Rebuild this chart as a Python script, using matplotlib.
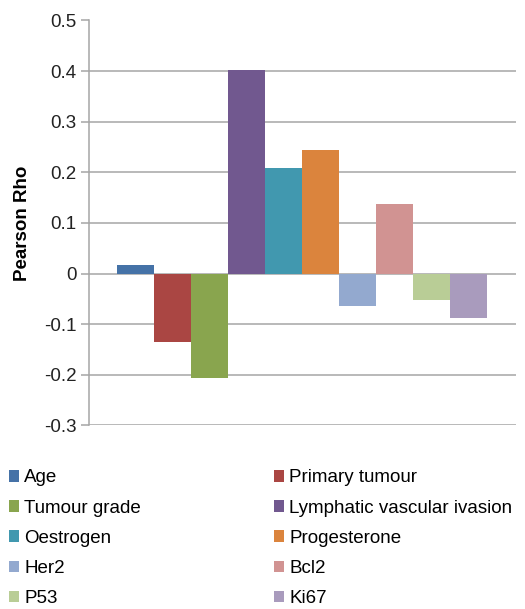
import matplotlib
matplotlib.use("Agg")
import matplotlib.pyplot as plt

plt.rcParams['font.family'] = ['Liberation Sans', 'DejaVu Sans']

# 1. data
labels = ["Age", "Primary tumour", "Tumour grade", "Lymphatic vascular ivasion",
          "Oestrogen", "Progesterone", "Her2", "Bcl2", "P53", "Ki67"]
rho = [0.016, -0.136, -0.206, 0.403, 0.208, 0.245, -0.065, 0.138, -0.053, -0.088]
colors = ["#4572A7", "#AA4643", "#89A54E", "#71588F", "#4198AF",
          "#DB843D", "#93A9CF", "#D19392", "#B9CD96", "#A99BBD"]
yticks = [-0.3, -0.2, -0.1, 0, 0.1, 0.2, 0.3, 0.4, 0.5]

# 2. figure & axes
fig = plt.figure(figsize=(5.25, 6.09), dpi=100)
ax = fig.add_axes([89 / 525, 1 - 425.3 / 609, (516 - 89) / 525, (425.3 - 20.5) / 609])

bars = []
for i, (lab, v, c) in enumerate(zip(labels, rho, colors)):
    b = ax.bar(i, v, width=1.0, color=c, label=lab, zorder=3)
    bars.append(b)

ax.set_xlim(-1.25, 10.29)
ax.set_ylim(-0.3, 0.5)
ax.set_yticks(yticks)
ax.set_yticklabels([f"{t:g}" for t in yticks], fontsize=13.5, color="#222222")
ax.set_xticks([])
ax.yaxis.grid(True, color="#a6a6a6", lw=1.1, zorder=0)
ax.tick_params(axis='y', length=6, width=1.1, color="#a6a6a6", pad=3)
for s in ["top", "right", "bottom"]:
    ax.spines[s].set_visible(False)
ax.spines["left"].set_color("#a6a6a6")
ax.spines["left"].set_linewidth(1.1)
ax.set_ylabel("Pearson Rho", fontsize=13.5, fontweight="bold", labelpad=9)

# 3. legend in two columns
kw = dict(loc="upper left", frameon=False, fontsize=13.5, handlelength=0.55,
          handleheight=0.55, handletextpad=0.3, labelspacing=0.7, borderaxespad=0)
fig.legend(bars[0::2], labels[0::2], bbox_to_anchor=(1 / 525, 1 - 462 / 609), **kw)
fig.legend(bars[1::2], labels[1::2], bbox_to_anchor=(266 / 525, 1 - 462 / 609), **kw)

fig.savefig("out.png", dpi=100)
